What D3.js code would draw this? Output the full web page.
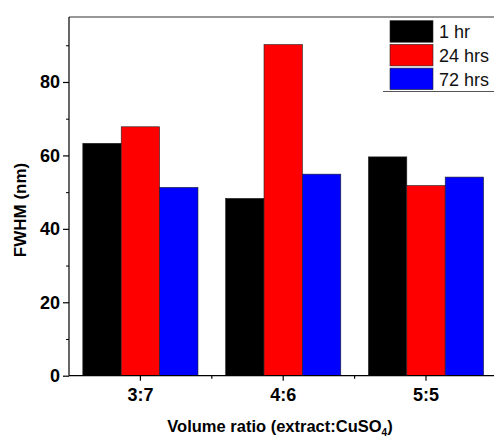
<!DOCTYPE html>
<html>
<head>
<meta charset="utf-8">
<script src="https://cdn.jsdelivr.net/npm/d3@7"></script>
<style>
  body { margin: 0; background: #fff; }
  text { font-family: "Liberation Sans", Arial, sans-serif; }
</style>
</head>
<body>
<svg id="chart" width="494" height="439"></svg>
<script>
// data
var categories = ["3:7", "4:6", "5:5"];
var seriesNames = ["1 hr", "24 hrs", "72 hrs"];
var seriesColors = ["#000000", "#ff0000", "#0000ff"];
var hr1 = [63.3, 48.3, 59.6];
var hrs24 = [67.8, 90.2, 51.8];
var hrs72 = [51.3, 54.9, 54.1];
var yTicks = [0, 20, 40, 60, 80];
var yMinor = [10, 30, 50, 70, 90];

var values = [hr1, hrs24, hrs72];

var plotLeft = 69, plotTop = 17, plotBottom = 375.7, plotRight = 497.4;
var svg = d3.select("#chart");

var x = d3.scaleBand().domain(categories).range([plotLeft, plotRight]).paddingInner(0).paddingOuter(0);
var x1 = d3.scaleBand().domain(seriesNames).range([0, x.bandwidth()]).paddingOuter(0.36);
var y = d3.scaleLinear().domain([0, 97.7]).range([plotBottom, plotTop]);

// bars
var groups = svg.append("g").selectAll("g")
  .data(categories)
  .enter().append("g")
  .attr("transform", function(d) { return "translate(" + x(d) + ",0)"; });

groups.selectAll("rect")
  .data(function(d, i) {
    return seriesNames.map(function(s, j) { return { s: s, v: values[j][i], c: seriesColors[j] }; });
  })
  .enter().append("rect")
  .attr("x", function(d) { return x1(d.s); })
  .attr("width", x1.bandwidth())
  .attr("y", function(d) { return y(d.v); })
  .attr("height", function(d) { return y(0) - y(d.v); })
  .style("fill", function(d) { return d.c; })
  .style("stroke", "#222")
  .style("stroke-width", 0.6);

// frame
svg.append("line").attr("x1", plotLeft).attr("x2", 494).attr("y1", plotTop).attr("y2", plotTop)
  .style("stroke", "#333").style("stroke-width", 1.2);

// y axis
var yAxis = svg.append("g").attr("transform", "translate(" + plotLeft + ",0)")
  .call(d3.axisLeft(y).tickValues(yTicks).tickSize(6).tickPadding(3).tickFormat(d3.format("d")));
yAxis.select(".domain").attr("d", "M0," + plotTop + "V" + plotBottom).style("stroke", "#000").style("stroke-width", 1.2);
yAxis.selectAll("text").style("font-size", "18px").style("font-weight", "bold").style("fill", "#000");
yAxis.selectAll("line").style("stroke-width", 1.2);
svg.append("g").attr("transform", "translate(" + plotLeft + ",0)")
  .call(d3.axisLeft(y).tickValues(yMinor).tickSize(3).tickFormat(""))
  .select(".domain").remove();

// x axis
var xAxis = svg.append("g").attr("transform", "translate(0," + plotBottom + ")")
  .call(d3.axisBottom(x).tickSize(5).tickPadding(8));
xAxis.select(".domain").attr("d", "M" + plotLeft + ",0H" + plotRight).style("stroke", "#000").style("stroke-width", 1.2);
xAxis.selectAll("text").style("font-size", "18px").style("font-weight", "bold").style("fill", "#000");
xAxis.selectAll("line").style("stroke-width", 1.2);
// minor ticks between categories
var xMinor = categories.slice(1).map(function(c) { return x(c); });
svg.append("g").selectAll("line").data(xMinor).enter().append("line")
  .attr("x1", function(d) { return d; }).attr("x2", function(d) { return d; })
  .attr("y1", plotBottom).attr("y2", plotBottom + 3)
  .style("stroke", "#000").style("stroke-width", 1.2);

// axis titles
svg.append("text")
  .attr("transform", "translate(26,210) rotate(-90)")
  .attr("text-anchor", "middle")
  .style("font-size", "17px").style("font-weight", "bold")
  .text("FWHM (nm)");

var xt = svg.append("text")
  .attr("x", 280).attr("y", 432)
  .attr("text-anchor", "middle")
  .style("font-size", "16.5px").style("font-weight", "bold");
xt.append("tspan").text("Volume ratio (extract:CuSO");
xt.append("tspan").attr("dy", 4).style("font-size", "10px").text("4");
xt.append("tspan").attr("dy", -4).text(")");

// legend
var legend = svg.append("g");
legend.append("line").attr("x1", 383).attr("x2", 494).attr("y1", 91.5).attr("y2", 91.5)
  .style("stroke", "#555").style("stroke-width", 1);
var rows = legend.selectAll("g").data(seriesNames).enter().append("g")
  .attr("transform", function(d, i) { return "translate(390," + (20.7 + i * 23.7) + ")"; });
rows.append("rect").attr("width", 43).attr("height", 21.5)
  .style("fill", function(d, i) { return seriesColors[i]; })
  .style("stroke", "#222").style("stroke-width", 0.6);
rows.append("text").attr("x", 49).attr("y", 17.5)
  .style("font-size", "18px").style("fill", "#111")
  .text(function(d) { return d; });
</script>
</body>
</html>
